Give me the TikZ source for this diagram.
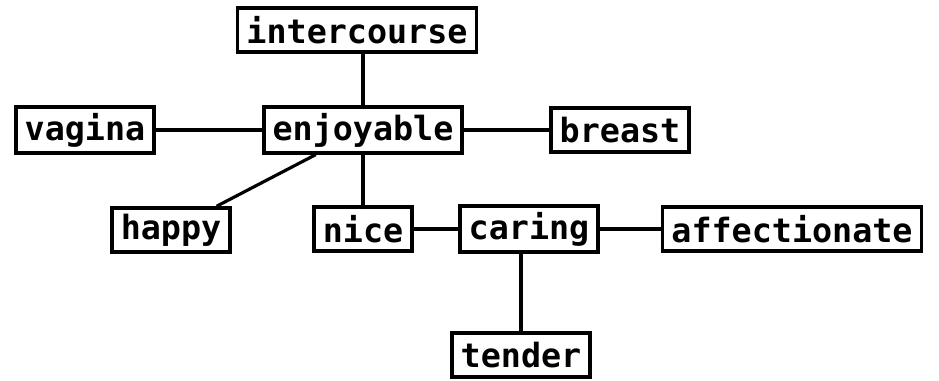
\documentclass[tikz,border=0pt]{standalone}
\usepackage{fontspec}
\setmonofont{DejaVu Sans Mono}
\usepackage{tikz}

\begin{document}
\begin{tikzpicture}[x=0.02cm,y=-0.02cm]
	\useasboundingbox (0,0) rectangle (939,380);
	\begin{scope}[every node/.style={rectangle,draw,line width=2pt,inner xsep=5pt,minimum height=25pt,font=\ttfamily\bfseries\fontsize{19}{19}\selectfont}]
    \node (I) at (357,30) {intercourse};
    \node (V) at (85,130) {vagina};
    \node (E) at (363,130) {enjoyable};
    \node (B) at (620,130) {breast};
    \node (H) at (171,230) {happy};
    \node (N) at (363,229) {nice};
    \node (C) at (529,229) {caring};
    \node (A) at (792,229) {affectionate};
    \node (T) at (521,355) {tender};
	\end{scope}

	\begin{scope}[every edge/.style={draw,line width=1.8pt}]
    \path (I.south -| E) edge (E);
    \path (V) edge (E);
    \path (E) edge (B);
    \path (E) edge (H);
    \path (E) edge (N);
    \path (N) edge (C);
    \path (C) edge (A);
    \path (C.south -| T) edge (T);
\end{scope}
\end{tikzpicture}
\end{document}
